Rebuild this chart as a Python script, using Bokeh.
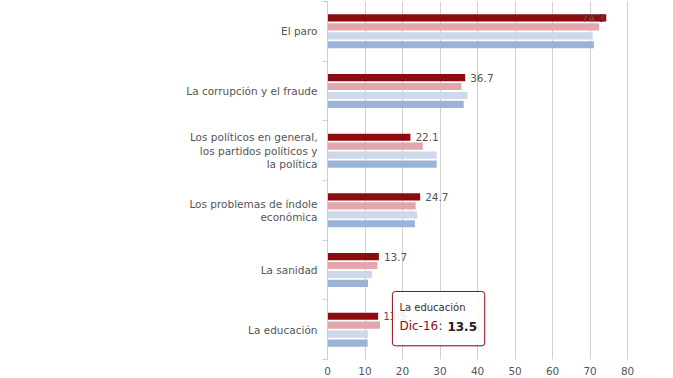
from bokeh.plotting import figure
from bokeh.models import ColumnDataSource, Range1d, FixedTicker, BoxAnnotation, Label
from bokeh.embed import file_html
from bokeh.resources import INLINE

# ---- data ----
categories = ["El paro", "La corrupción y el fraude",
              "Los políticos en general, los partidos políticos y la política",
              "Los problemas de índole económica", "La sanidad", "La educación"]
category_labels = ["El paro", "La corrupción y el fraude",
                   "Los políticos en general,\nlos partidos políticos y\nla política",
                   "Los problemas de índole\neconómica", "La sanidad", "La educación"]
series_names = ["Dic-16", "Nov-16", "Oct-16", "Sep-16"]
dic16 = [74.3, 36.7, 22.1, 24.7, 13.7, 13.5]
nov16 = [72.4, 35.7, 25.4, 23.5, 13.3, 14.0]
oct16 = [70.7, 37.3, 29.1, 23.9, 11.9, 10.8]
sep16 = [71.0, 36.3, 29.1, 23.3, 10.8, 10.7]
x_ticks = [0, 10, 20, 30, 40, 50, 60, 70, 80]
tooltip_category = "La educación"
tooltip_series = "Dic-16"

series_values = [dic16, nov16, oct16, sep16]
colors = ["#8e0b10", "#e3a6ad", "#cdd8ea", "#9bb3d6"]
FONT = "DejaVu Sans"
TEXT = "#555555"

n = len(categories)
XMAX = 80.5
p = figure(width=673, height=378, output_backend="svg", toolbar_location=None,
           x_range=Range1d(0, XMAX), y_range=Range1d(n - 0.5, -0.5),
           min_border_left=327, min_border_right=44, min_border_top=1,
           min_border_bottom=19)
p.outline_line_color = None
p.background_fill_color = "white"

# bars
step = 0.15
for s, (name, vals, col) in enumerate(zip(series_names, series_values, colors)):
    src = ColumnDataSource(dict(
        y=[i + (s - 1.5) * step for i in range(n)],
        right=vals, cat=categories))
    p.hbar(y="y", left=0, right="right", height=0.12, fill_color=col,
           line_color=None, source=src)

# data labels for first series (justified inside when overflowing)
scale = 302 / XMAX
aligns, offs = [], []
for v in dic16:
    w = len(f"{v:.1f}") * 6.0
    if (v * scale + 5 + w) > XMAX * scale:
        aligns.append("right"); offs.append(-1)
    else:
        aligns.append("left"); offs.append(5)
lab_src = ColumnDataSource(dict(
    x=dic16, y=[i - 1.5 * step for i in range(n)],
    text=[f"{v:.1f}" for v in dic16], align=aligns, off=offs))
p.text(x="x", y="y", text="text", text_align="align", x_offset="off",
       text_baseline="middle", text_font_size="10.5px", text_color=TEXT,
       text_font={"value": FONT}, source=lab_src)

# x axis
xa = p.xaxis[0]
xa.ticker = FixedTicker(ticks=x_ticks)
xa.axis_line_color = None
xa.major_tick_line_color = None
xa.minor_tick_line_color = None
xa.major_label_text_font = FONT
xa.major_label_text_font_size = "10.5px"
xa.major_label_text_color = TEXT
xa.major_label_standoff = 1

# y (category) axis
ya = p.yaxis[0]
ya.ticker = FixedTicker(ticks=list(range(n)),
                        minor_ticks=[i - 0.5 for i in range(n + 1)])
ya.major_label_overrides = {i: lab for i, lab in enumerate(category_labels)}
ya.axis_line_color = "#c0d0e0"
ya.major_tick_line_color = None
ya.major_tick_out = 0
ya.minor_tick_line_color = "#c0d0e0"
ya.minor_tick_out = 5
ya.minor_tick_in = 0
ya.major_label_standoff = 5
ya.major_label_text_font = FONT
ya.major_label_text_font_size = "10.5px"
ya.major_label_text_color = TEXT
ya.major_label_text_line_height = 1.1

p.xgrid.grid_line_color = "#d0d0d0"
p.ygrid.grid_line_color = None

# tooltip for the hovered point
ti = categories.index(tooltip_category)
si = series_names.index(tooltip_series)
tv = series_values[si][ti]
left = tv + 3.8
right = left + 24.6
p.add_layout(BoxAnnotation(left=left + 0.3, right=right + 0.3, top=ti - 0.62,
                           bottom=ti + 0.29, fill_color="black",
                           fill_alpha=0.06, line_color=None,
                           border_radius=3))
p.add_layout(BoxAnnotation(left=left, right=right, top=ti - 0.64,
                           bottom=ti + 0.27, fill_color="white",
                           fill_alpha=0.88, line_color=colors[si],
                           line_width=1, line_alpha=1.0, border_radius=3))
p.add_layout(Label(x=left, y=ti - 0.37, x_offset=7, text=tooltip_category,
                   text_baseline="middle", text_font=FONT,
                   text_font_size="10px", text_color="#333333"))
p.add_layout(Label(x=left, y=ti - 0.06, x_offset=7, text=tooltip_series,
                   text_baseline="middle", text_font=FONT,
                   text_font_size="12px", text_color=colors[si]))
p.add_layout(Label(x=left, y=ti - 0.06, x_offset=46, text=":",
                   text_baseline="middle", text_font=FONT,
                   text_font_size="12px", text_color="#333333"))
p.add_layout(Label(x=left, y=ti - 0.06, x_offset=55, text=f"{tv:.1f}",
                   text_baseline="middle", text_font=FONT,
                   text_font_size="12px", text_font_style="bold",
                   text_color="#222222"))

open("out.html", "w").write(file_html(p, INLINE))
